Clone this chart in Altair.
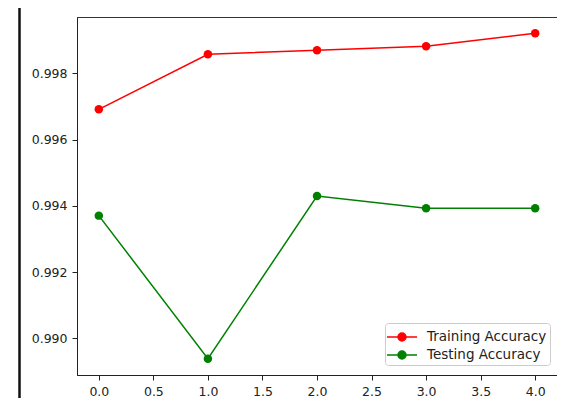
import altair as alt
import pandas as pd

epochs = [0, 1, 2, 3, 4]
train_acc = [0.996917, 0.998580, 0.998701, 0.998821, 0.999212]
test_acc = [0.993708, 0.989389, 0.994301, 0.993931, 0.993931]
series = ["Training Accuracy", "Testing Accuracy"]
colors = ["#ff0000", "#008000"]
x_ticks = [0.0, 0.5, 1.0, 1.5, 2.0, 2.5, 3.0, 3.5, 4.0]
y_ticks = [0.990, 0.992, 0.994, 0.996, 0.998]

df = pd.DataFrame(
    {
        "epoch": epochs * 2,
        "acc": train_acc + test_acc,
        "series": [series[0]] * len(epochs) + [series[1]] * len(epochs),
    }
)

FONT = "DejaVu Sans"
FS = 12.5

x_enc = alt.X(
    "epoch:Q",
    scale=alt.Scale(domain=[-0.2, 4.2], nice=False, zero=False),
    axis=alt.Axis(values=x_ticks, format=".1f", title=None, grid=False),
)
y_enc = alt.Y(
    "acc:Q",
    scale=alt.Scale(domain=[0.988898, 0.999703], nice=False, zero=False),
    axis=alt.Axis(values=y_ticks, format=".3f", title=None, grid=False),
)

symbol_path = (
    "M-1.5,0 L1.5,0 "
    "M-0.4,0 A0.4,0.4 0 1,1 0.4,0 A0.4,0.4 0 1,1 -0.4,0 Z"
)

color_enc = alt.Color(
    "series:N",
    scale=alt.Scale(domain=series, range=colors),
    legend=alt.Legend(
        title=None,
        orient="none",
        legendX=308,
        legendY=306,
        symbolType=symbol_path,
        symbolSize=400,
        symbolStrokeWidth=1.5,
        symbolOpacity=1,
        symbolOffset=3,
        labelOffset=14,
        labelFont=FONT,
        labelFontSize=13.5,
        labelColor="#222222",
        rowPadding=0,
        padding=3,
        fillColor="rgba(255,255,255,0.8)",
        strokeColor="#cccccc",
        cornerRadius=3,
    ),
)

lines = alt.Chart(df).mark_line(strokeWidth=1.5).encode(
    x=x_enc, y=y_enc, color=color_enc
)
points = alt.Chart(df).mark_point(filled=True, size=72, opacity=1).encode(
    x=x_enc, y=y_enc, color=color_enc
)

frame = alt.Chart(pd.DataFrame({"a": [0]})).mark_rule(
    color="#111111", strokeWidth=2.5
).encode(x=alt.value(-57.5), y=alt.value(-9), y2=alt.value(381))

chart = (
    alt.layer(lines, points, frame)
    .properties(
        width=480,
        height=358,
        background="white",
        autosize=alt.AutoSizeParams(type="none"),
        padding={"left": 69, "top": 9, "right": 0, "bottom": 23},
    )
    .configure_view(stroke="#333333", strokeWidth=1)
    .configure_axis(
        labelFont=FONT,
        labelFontSize=FS,
        labelColor="#222222",
        domainColor="#222222",
        tickColor="#222222",
        tickSize=5,
        labelPadding=5,
        domainWidth=1,
        tickWidth=1,
    )
)

chart.save("out.html", embed_options={"renderer": "svg", "actions": False})
